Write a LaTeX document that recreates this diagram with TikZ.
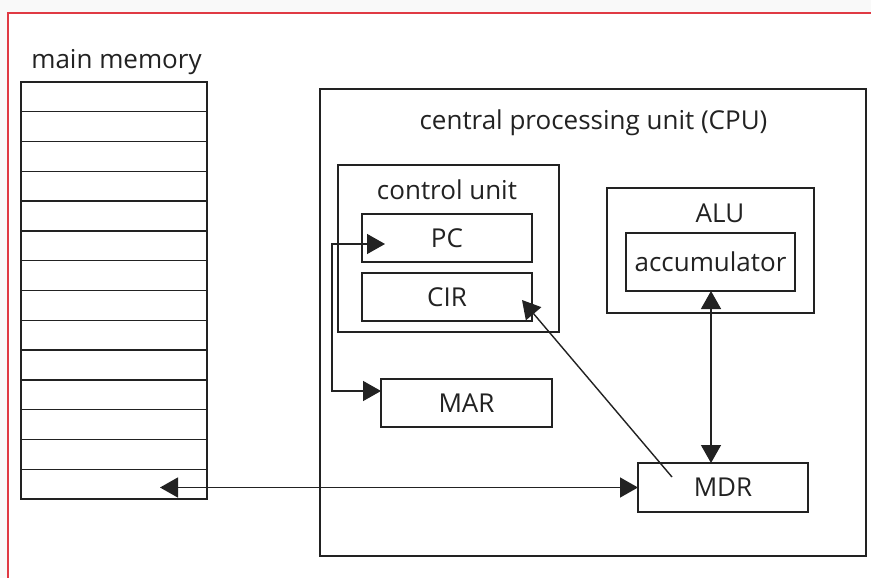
\documentclass[tikz,border=0pt]{standalone}
\usepackage{fontspec}
\setmainfont{Open Sans}
\usetikzlibrary{arrows.meta,calc}
\definecolor{framered}{HTML}{E03A44}
\definecolor{ink}{HTML}{222222}
\begin{document}
\begin{tikzpicture}[x=1pt,y=-1pt,
  >={Triangle[length=18pt,width=20pt]},
  box/.style={draw=ink,line width=1.4pt,inner sep=0pt,outer sep=0pt,font=\fontsize{26}{30}\selectfont,text=ink},
  lbl/.style={font=\fontsize{26}{30}\selectfont,text=ink,inner sep=0pt,yshift=-2.5pt},
  conn/.style={line width=1.4pt,draw=ink,->},
  conn2/.style={line width=1.4pt,draw=ink,<->},
]
\useasboundingbox (0,0) rectangle (871,578);
% page background and red frame
\fill[gray!5] (0,0) rectangle (871,578);
\fill[white] (8,13) rectangle (871,578);
\draw[framered,line width=1.3pt] (8,578) -- (8,13) -- (871,13);

% main memory
\node[lbl] (memlbl) at (116.5,60) {main memory};
\node[box,minimum width=186pt,minimum height=417pt] (mem) at (114,290.5) {};
\foreach \i in {1,...,13}
  \draw[ink,line width=1.4pt] ($(mem.north west)!\i/14!(mem.south west)$) -- ($(mem.north east)!\i/14!(mem.south east)$);

% CPU and its parts
\node[box,minimum width=546pt,minimum height=467pt] (cpu) at (593,322.5) {};
\node[lbl] (cpulbl) at (593.5,120) {central processing unit (CPU)};
\node[box,minimum width=221pt,minimum height=167pt] (cu) at (448.5,248.5) {};
\node[lbl] (culbl) at (447,187) {control unit};
\node[box,minimum width=170pt,minimum height=48pt] (pc) at (447,238) {PC};
\node[box,minimum width=170pt,minimum height=48pt] (cir) at (447,297) {CIR};
\node[box,minimum width=171pt,minimum height=48pt] (mar) at (466.5,403) {MAR};
\node[box,minimum width=207pt,minimum height=125pt] (alu) at (710.5,250.5) {};
\node[lbl] (alulbl) at (720,211) {ALU};
\node[box,minimum width=169pt,minimum height=58pt] (acc) at (710.5,262) {accumulator};
\node[box,minimum width=170pt,minimum height=49pt] (mdr) at (723,487.5) {MDR};

% connector end points
\coordinate (memtip) at (160,487.5);
\coordinate (pctip) at (385,244);
\coordinate (bus) at (332,244);
\coordinate (marin) at (381,391);
\coordinate (mdrin) at (672,477);
\coordinate (cirtip) at (522,300);
\coordinate (accbot) at (711,291);

% connectors
\draw[conn2] (memtip) -- (mdr.west);
\draw[conn2] (accbot) -- (accbot |- mdr.north);
\draw[conn] (mdrin) -- (cirtip);
\draw[conn2] (pctip) -- (bus) |- (marin);
\end{tikzpicture}
\end{document}
